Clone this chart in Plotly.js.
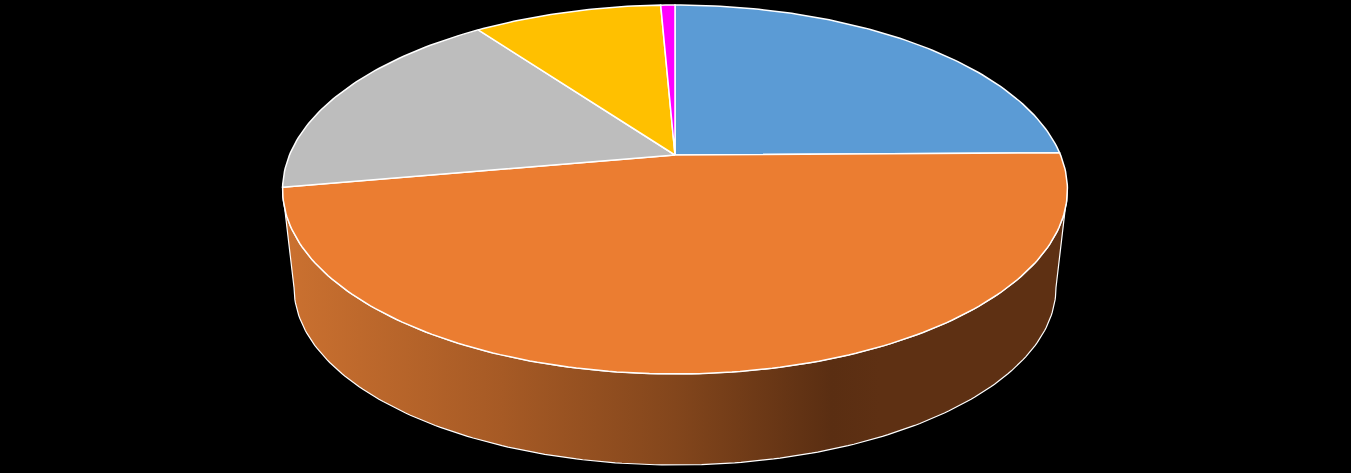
<!DOCTYPE html>
<html><head><meta charset="utf-8">
<script src="https://cdn.plot.ly/plotly-3.0.1.min.js"></script>
<style>html,body{margin:0;padding:0;background:#000}#c{width:1351px;height:473px}</style>
</head><body><div id="c"></div>
<script>
const sliceNames = ['A','B','C','D','E'];
const sliceValues = [24.8, 47.4, 17.8, 9.3, 0.7];
const sliceColors = ['#5B9BD5','#EB7D31','#BDBDBD','#FFC000','#FF00FF'];

// projection of the tilted disc into axis units
const cx = 675, apexY = 155, persp = 0.187, bY = 149.06, kX = 385.5;
const botCy = 287.5, botRx = 381, botRy = 177.5;
function topRim(t){ const u=Math.sin(t), v=Math.cos(t), w=1+persp*v;
  return [cx+kX*u/w, (apexY-bY*v)/w]; }
function bottomRim(t){ return [cx+botRx*Math.sin(t), botCy-botRy*Math.cos(t)]; }

const traces = [];
const total = sliceValues.reduce((a,b)=>a+b,0);
const rad = d=>d*Math.PI/180;

// side wall: front part of top rim from its widest points, back along the bottom rim
const wx=[], wy=[];
for(let d=101;d<=259;d+=1){ const p=topRim(rad(d)); wx.push(p[0]); wy.push(p[1]); }
for(let d=270;d>=90;d-=1){ const p=bottomRim(rad(d)); wx.push(p[0]); wy.push(p[1]); }
wx.push(wx[0]); wy.push(wy[0]);
traces.push({type:'scatter',mode:'lines',x:wx,y:wy,fill:'toself',
  fillcolor:'#8a4a1c',
  fillgradient:{type:'horizontal',colorscale:[
    [0,'#CB7130'],[0.28,'#A65A25'],[0.5,'#83461C'],[0.7,'#5A2E12'],[0.76,'#5E3013'],[1,'#5E3013']]},
  line:{color:'#ffffff',width:1.2},hoverinfo:'skip',showlegend:false});

// top face slices, clockwise from twelve o'clock
let acc=0;
sliceValues.forEach((val,i)=>{
  const a0=acc/total*360, a1=(acc+val)/total*360; acc+=val;
  const xs=[cx], ys=[apexY];
  const n=Math.max(2,Math.ceil(a1-a0));
  for(let k=0;k<=n;k++){ const p=topRim(rad(a0+(a1-a0)*k/n)); xs.push(p[0]); ys.push(p[1]); }
  xs.push(cx); ys.push(apexY);
  traces.push({type:'scatter',mode:'lines',name:sliceNames[i],x:xs,y:ys,fill:'toself',
    fillcolor:sliceColors[i],line:{color:'#ffffff',width:1.5},hoverinfo:'skip',showlegend:false});
});

const axis = r=>({range:r,visible:false,showgrid:false,zeroline:false,fixedrange:true});
Plotly.newPlot('c',traces,{
  width:1351,height:473,margin:{l:0,r:0,t:0,b:0},
  paper_bgcolor:'#000000',plot_bgcolor:'#000000',showlegend:false,
  xaxis:axis([0,1351]),yaxis:axis([473,0])
},{displayModeBar:false,staticPlot:true});
</script></body></html>
